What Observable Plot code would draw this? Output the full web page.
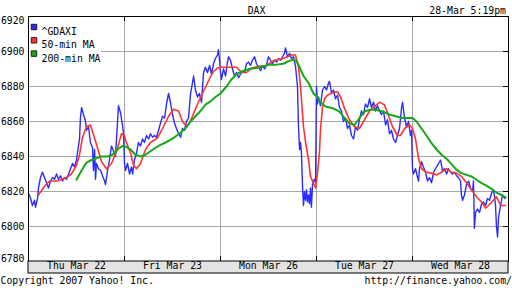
<!DOCTYPE html>
<html><head><meta charset="utf-8">
<script src="https://cdn.jsdelivr.net/npm/d3@7"></script>
<script src="https://cdn.jsdelivr.net/npm/@observablehq/plot@0.6"></script>
<style>html,body{margin:0;padding:0;background:#fff}</style>
</head><body><div id="chart"></div>
<script>
const title = "DAX";
const stamp = "28-Mar 5:19pm";
const copyright = "Copyright 2007 Yahoo! Inc.";
const source = "http://finance.yahoo.com/";
const days = ["Thu Mar 22", "Fri Mar 23", "Mon Mar 26", "Tue Mar 27", "Wed Mar 28"];
const yTicks = [6780, 6800, 6820, 6840, 6860, 6880, 6900, 6920];
const sessionMinutes = 510; // 09:00 - 17:30
const seriesNames = ["^GDAXI", "50-min MA", "200-min MA"];
const seriesColors = ["#2b2bff", "#ff3333", "#16a816"];

// [day index, minutes after 09:00, value]
const gdaxi = [
[0,0,6819],[0,11,6816],[0,21,6812],[0,32,6815],[0,37,6811],[0,48,6816],[0,53,6822],[0,64,6828],[0,74,6831],[0,85,6828],[0,96,6825],[0,106,6822],[0,117,6826],[0,128,6828],[0,138,6827],[0,149,6830],[0,159,6827],[0,170,6829],[0,181,6826],[0,191,6828],[0,202,6827],[0,213,6830],[0,223,6833],[0,234,6836],[0,244,6834],[0,255,6838],[0,260,6842],[0,271,6850],[0,276,6862],[0,282,6868],[0,292,6864],[0,303,6860],[0,308,6855],[0,319,6857],[0,329,6848],[0,340,6845],[0,345,6832],[0,351,6844],[0,356,6827],[0,361,6836],[0,372,6833],[0,383,6832],[0,393,6829],[0,404,6826],[0,409,6824],[0,420,6832],[0,430,6838],[0,441,6846],[0,452,6843],[0,462,6840],[0,473,6860],[0,478,6869],[0,489,6865],[0,499,6858],[0,505,6853],
[1,0,6836],[1,5,6832],[1,16,6836],[1,27,6830],[1,37,6834],[1,43,6830],[1,53,6838],[1,64,6842],[1,74,6848],[1,85,6846],[1,96,6850],[1,106,6848],[1,117,6852],[1,128,6850],[1,138,6853],[1,149,6851],[1,159,6852],[1,170,6851],[1,181,6855],[1,191,6859],[1,202,6863],[1,213,6862],[1,223,6870],[1,234,6876],[1,244,6871],[1,255,6864],[1,266,6859],[1,276,6856],[1,287,6853],[1,298,6851],[1,308,6856],[1,319,6855],[1,329,6860],[1,340,6862],[1,351,6876],[1,361,6882],[1,367,6886],[1,377,6878],[1,388,6874],[1,398,6876],[1,409,6871],[1,420,6888],[1,430,6891],[1,441,6888],[1,452,6892],[1,462,6887],[1,473,6893],[1,483,6896],[1,494,6898],[1,499,6901],[1,505,6895],
[2,0,6888],[2,5,6884],[2,16,6890],[2,27,6886],[2,37,6894],[2,43,6897],[2,53,6895],[2,64,6890],[2,74,6886],[2,85,6888],[2,96,6885],[2,106,6887],[2,117,6889],[2,128,6888],[2,138,6893],[2,149,6894],[2,159,6892],[2,170,6895],[2,181,6897],[2,191,6893],[2,202,6891],[2,213,6889],[2,223,6892],[2,234,6890],[2,244,6892],[2,255,6897],[2,266,6895],[2,276,6893],[2,287,6895],[2,298,6894],[2,308,6896],[2,319,6895],[2,329,6897],[2,340,6899],[2,345,6902],[2,356,6897],[2,367,6899],[2,377,6896],[2,388,6897],[2,398,6892],[2,409,6880],[2,414,6858],[2,420,6844],[2,425,6848],[2,430,6842],[2,436,6822],[2,441,6812],[2,446,6820],[2,452,6815],[2,457,6821],[2,462,6814],[2,468,6818],[2,473,6813],[2,478,6822],[2,483,6811],[2,489,6824],[2,494,6826],[2,499,6827],[2,505,6825],
[3,0,6880],[3,5,6870],[3,11,6874],[3,21,6869],[3,32,6878],[3,43,6880],[3,53,6878],[3,64,6882],[3,69,6883],[3,80,6876],[3,90,6878],[3,101,6873],[3,112,6875],[3,122,6868],[3,133,6866],[3,143,6860],[3,154,6862],[3,165,6856],[3,175,6858],[3,186,6852],[3,197,6850],[3,207,6857],[3,218,6855],[3,228,6861],[3,239,6866],[3,250,6864],[3,260,6870],[3,271,6868],[3,282,6873],[3,292,6868],[3,303,6871],[3,313,6866],[3,324,6869],[3,335,6866],[3,345,6864],[3,356,6866],[3,367,6858],[3,377,6861],[3,388,6853],[3,398,6855],[3,409,6850],[3,420,6848],[3,430,6852],[3,441,6856],[3,452,6868],[3,457,6871],[3,468,6862],[3,478,6857],[3,489,6860],[3,499,6852],[3,505,6855],
[4,0,6833],[4,5,6830],[4,16,6833],[4,27,6828],[4,32,6826],[4,37,6833],[4,48,6837],[4,58,6834],[4,69,6831],[4,80,6826],[4,90,6828],[4,101,6825],[4,112,6831],[4,122,6833],[4,133,6835],[4,149,6838],[4,159,6832],[4,170,6833],[4,181,6830],[4,191,6833],[4,202,6831],[4,213,6830],[4,223,6831],[4,234,6829],[4,244,6828],[4,255,6826],[4,260,6818],[4,266,6815],[4,276,6818],[4,287,6824],[4,298,6826],[4,308,6822],[4,319,6820],[4,324,6826],[4,329,6799],[4,335,6808],[4,345,6810],[4,356,6808],[4,367,6813],[4,377,6814],[4,388,6812],[4,398,6816],[4,409,6815],[4,420,6819],[4,430,6821],[4,436,6817],[4,441,6812],[4,446,6800],[4,452,6794],[4,457,6805],[4,468,6812],[4,478,6818],[4,489,6816],[4,494,6817]
];

const ma50 = [
[0,53,6818],[0,85,6823],[0,112,6826],[0,154,6826],[0,202,6828],[0,228,6830],[0,255,6835],[0,271,6841],[0,287,6851],[0,308,6857],[0,329,6858],[0,361,6847],[0,388,6837],[0,414,6833],[0,441,6836],[0,468,6843],[0,494,6853],
[1,0,6852],[1,5,6849.5],[1,32,6842],[1,48,6835],[1,64,6833],[1,85,6836],[1,112,6844],[1,138,6848],[1,175,6850.5],[1,207,6857],[1,234,6863],[1,260,6867],[1,287,6866],[1,308,6860],[1,324,6858],[1,340,6858],[1,361,6863],[1,388,6870],[1,414,6876],[1,441,6882],[1,468,6888],[1,494,6890.5],
[2,0,6891],[2,48,6891],[2,85,6891],[2,112,6888],[2,138,6888],[2,165,6890.5],[2,202,6891.5],[2,244,6892],[2,287,6895],[2,335,6896],[2,377,6898],[2,398,6898],[2,414,6891.5],[2,425,6880],[2,441,6857],[2,452,6848],[2,468,6838],[2,478,6828.5],[2,494,6824.7],[2,505,6822],
[3,5,6830],[3,16,6843],[3,21,6855],[3,32,6868.5],[3,43,6873],[3,58,6875],[3,85,6876.5],[3,112,6877],[3,128,6874],[3,149,6867.5],[3,175,6861],[3,202,6857],[3,228,6856],[3,255,6861],[3,282,6866],[3,308,6868.5],[3,335,6871],[3,361,6869.5],[3,377,6865],[3,404,6857],[3,430,6852],[3,446,6852],[3,468,6856],[3,494,6858],
[4,0,6856],[4,16,6850],[4,32,6839],[4,48,6833],[4,74,6831],[4,101,6830.5],[4,128,6829.5],[4,154,6831],[4,181,6833],[4,207,6831],[4,234,6830.5],[4,260,6828.6],[4,287,6825],[4,313,6821],[4,340,6817],[4,367,6814],[4,388,6810.5],[4,404,6812],[4,430,6815],[4,446,6817],[4,468,6812],[4,494,6812]
];

const ma200 = [
[0,255,6826.7],[0,282,6832],[0,308,6836.5],[0,335,6838],[0,361,6839],[0,388,6840],[0,420,6840],[0,446,6841],[0,473,6844],[0,499,6846],
[1,5,6845.7],[1,32,6844],[1,58,6841],[1,85,6840],[1,112,6841],[1,138,6843],[1,165,6845],[1,191,6846.6],[1,218,6848],[1,244,6849.5],[1,271,6851.4],[1,298,6853.7],[1,324,6856],[1,351,6860],[1,377,6863],[1,404,6866],[1,430,6869.6],[1,457,6871.5],[1,483,6874],
[2,0,6876],[2,32,6880],[2,58,6884],[2,85,6887],[2,122,6889],[2,154,6890],[2,191,6890.6],[2,228,6891.6],[2,260,6892.5],[2,298,6892.5],[2,335,6893],[2,361,6894.5],[2,388,6895.4],[2,404,6894.5],[2,420,6891],[2,441,6886],[2,468,6882],[2,494,6876],
[3,0,6874.5],[3,21,6871],[3,48,6868.6],[3,85,6867.6],[3,122,6865.7],[3,149,6862],[3,175,6859],[3,202,6858],[3,228,6862],[3,255,6865.7],[3,282,6866.7],[3,313,6866.7],[3,351,6865.7],[3,388,6864],[3,420,6863],[3,457,6862],[3,494,6862],
[4,0,6862],[4,21,6860],[4,48,6856],[4,74,6852],[4,101,6847.6],[4,128,6844],[4,154,6841],[4,181,6838.7],[4,207,6835.6],[4,234,6832.4],[4,260,6830.5],[4,287,6829.5],[4,313,6828.6],[4,340,6826.7],[4,367,6824.8],[4,393,6823.4],[4,420,6821.5],[4,446,6819.4],[4,473,6818],[4,494,6816.6]
];

const toRows = (arr) => arr.map(([d, m, v]) => ({t: d * sessionMinutes + m, v}));
const boundaries = days.slice(1).map((_, i) => (i + 1) * sessionMinutes);
const dayMids = days.map((label, i) => ({label, t: (i + 0.5) * sessionMinutes}));
const innerTicks = yTicks.slice(1, -1);
const font = "'DejaVu Sans Mono', monospace";
const fs = 9.8;
const grid = "#a8a8a8";
const plain = d => String(d);

const legendMarks = seriesNames.flatMap((name, i) => [
  Plot.dot([name], {frameAnchor: "top-left", dx: 5.5, dy: 10.5 + i * 13.3, symbol: "square", r: 3.1, fill: seriesColors[i], stroke: "#000", strokeWidth: 0.8}),
  Plot.text([name], {text: d => d, frameAnchor: "top-left", dx: 13, dy: 11.5 + i * 13.3, textAnchor: "start", fontSize: fs, fill: "#000"})
]);

const chart = Plot.plot({
  width: 512, height: 288,
  marginTop: 16, marginBottom: 27, marginLeft: 28, marginRight: 4,
  x: {domain: [0, days.length * sessionMinutes], axis: null},
  y: {domain: [yTicks[0], yTicks[yTicks.length - 1]], label: null},
  style: {fontFamily: font, fontSize: fs + "px", background: "white", color: "black", overflow: "visible"},
  marks: [
    Plot.ruleY(innerTicks, {stroke: grid, strokeWidth: 1}),
    Plot.ruleX(boundaries, {stroke: grid, strokeWidth: 1}),
    Plot.ruleX(boundaries, {stroke: "#000", insetBottom: 240}),
    Plot.ruleX(boundaries, {stroke: "#000", insetTop: 240}),
    Plot.ruleY(innerTicks, {stroke: "#000", insetLeft: 475}),
    Plot.line(toRows(gdaxi), {x: "t", y: "v", stroke: seriesColors[0], strokeWidth: 1.4}),
    Plot.line(toRows(ma50), {x: "t", y: "v", stroke: seriesColors[1], strokeWidth: 1.6}),
    Plot.line(toRows(ma200), {x: "t", y: "v", stroke: seriesColors[2], strokeWidth: 2}),
    Plot.rect([0], {fill: "white", insetTop: 0.5, insetLeft: 0.5, insetRight: 407, insetBottom: 201}),
    ...legendMarks,
    Plot.frame({stroke: "#000"}),
    Plot.rect([0], {fill: "#e3e3e3", stroke: "#000", insetTop: 245, insetBottom: -12}),
    Plot.text(dayMids, {x: "t", text: "label", frameAnchor: "bottom", dy: 7, fontSize: fs, fill: "#000"}),
    Plot.axisY({ticks: innerTicks, tickFormat: plain, tickSize: 0, tickPadding: 4, label: null, fontSize: fs}),
    Plot.axisY({ticks: [yTicks[yTicks.length - 1]], tickFormat: plain, tickSize: 0, tickPadding: 4, label: null, dy: 4, fontSize: fs}),
    Plot.axisY({ticks: [yTicks[0]], tickFormat: plain, tickSize: 0, tickPadding: 4, label: null, dy: -2.5, fontSize: fs}),
    Plot.text([title], {text: d => d, frameAnchor: "top", dx: -12, dy: -9, fontSize: fs, fill: "#000"}),
    Plot.text([stamp], {text: d => d, frameAnchor: "top-right", textAnchor: "end", dx: -2.5, dy: -9, fontSize: fs, fill: "#000"}),
    Plot.text([copyright], {text: d => d, frameAnchor: "bottom-left", textAnchor: "start", dx: -28, dy: 22, fontSize: fs, fill: "#000"}),
    Plot.text([source], {text: d => d, frameAnchor: "bottom-right", textAnchor: "end", dx: 3.5, dy: 22, fontSize: fs, fill: "#000"})
  ]
});
document.getElementById("chart").append(chart);
</script>
</body></html>
